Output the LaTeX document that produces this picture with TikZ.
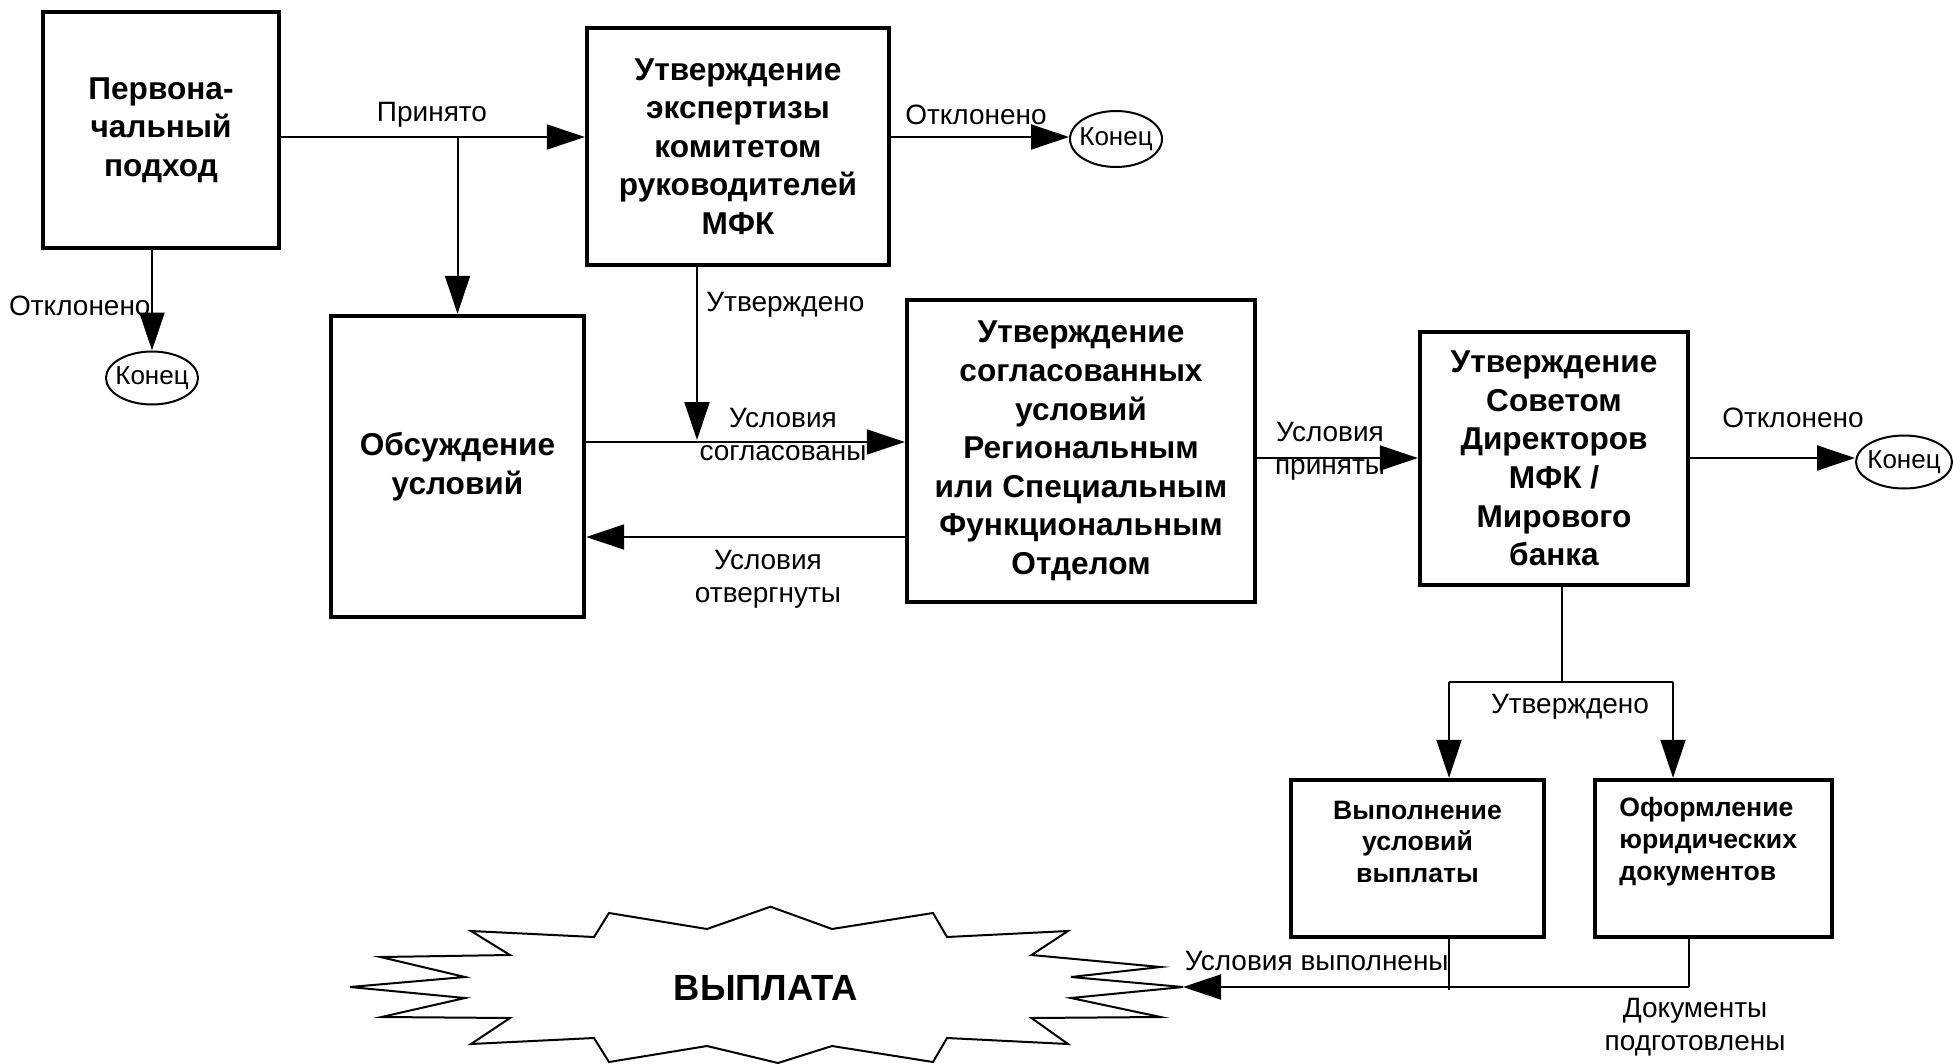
\documentclass[tikz,border=0pt]{standalone}
\usepackage{fontspec}
\setmainfont{Liberation Sans}
\usetikzlibrary{arrows.meta,shapes.geometric}
\begin{document}
\begin{tikzpicture}[x=0.5pt,y=-0.5pt,
  box/.style={draw,line width=2.2pt,inner sep=0pt,align=center,font=\fontsize{15.8}{19.3}\selectfont\bfseries},
  sbox/.style={draw,line width=2.2pt,inner sep=0pt},
  stxt/.style={inner sep=0pt,font=\fontsize{13.3}{15.8}\selectfont\bfseries},
  ell/.style={ellipse,draw,line width=1pt,inner xsep=-3pt,inner ysep=0pt,font=\fontsize{13}{15}\selectfont},
  arr/.style={line width=1pt,-{Triangle[length=19pt,width=12.5pt]}},
  ln/.style={line width=1pt},
  lab/.style={inner sep=0pt,align=center,font=\fontsize{14}{16.5}\selectfont}]
\useasboundingbox (0,0) rectangle (1953,1064);
% boxes
\node[box,minimum width=118pt,minimum height=118pt] (b1) at (161,130) {Первона-\\чальный\\подход};
\node[box,minimum width=151pt,minimum height=118.5pt] (b2) at (738,146.5) {Утверждение\\экспертизы\\комитетом\\руководителей\\МФК};
\node[box,minimum width=126.5pt,minimum height=150.5pt] (b3) at (457.5,466.5) {Обсуждение\\условий};
\node[box,minimum width=174pt,minimum height=151pt] (b4) at (1081,451) {Утверждение\\согласованных\\условий\\Региональным\\или Специальным\\Функциональным\\Отделом};
\node[box,minimum width=134pt,minimum height=126.5pt] (b5) at (1554,458.5) {Утверждение\\Советом\\Директоров\\МФК /\\Мирового\\банка};
\node[sbox,minimum width=126.5pt,minimum height=78.5pt] (b6) at (1417.5,858.5) {};
\node[sbox,minimum width=118.5pt,minimum height=78.5pt] (b7) at (1713.5,858.5) {};
\node[stxt,align=center] (t6) at (1417.5,841.7) {Выполнение\\условий\\выплаты};
\node[stxt,align=left,anchor=west] (t7) at (1619,841.7) {Оформление\\юридических\\документов};
% end ellipses
\node[ell,minimum width=46pt,minimum height=26.5pt] (e1) at (152,378) {Конец};
\node[ell,minimum width=46pt,minimum height=28pt] (e2) at (1116,139) {Конец};
\node[ell,minimum width=48pt,minimum height=26.5pt] (e3) at (1904,462) {Конец};
% starburst
\draw[line width=1pt,fill=white] (770.5,906.7) -- (832,929) -- (933,913) -- (947,937) -- (1068,931) -- (1031.5,955) -- (1160.5,967) -- (1071,977) -- (1183,987) -- (1071,998) -- (1160.5,1017) -- (1031.5,1018) -- (1068,1044) -- (947,1038) -- (933,1062) -- (832,1046) -- (778,1063) -- (707,1046) -- (609,1062) -- (594,1038) -- (471,1044) -- (510,1018) -- (381.5,1017) -- (465,998) -- (350,987) -- (465,977) -- (380.5,957) -- (510,955) -- (471,931) -- (594,937) -- (609,913) -- (707,929) -- cycle;
\coordinate (st) at (1183,987);
\node[inner sep=0pt,font=\fontsize{18.2}{22}\selectfont\bfseries] (pay) at (766,988) {ВЫПЛАТА};
% helper coordinates
\coordinate (r1) at (0,137);
\coordinate (r2) at (0,442);
\coordinate (r3) at (0,537);
\coordinate (r4) at (0,458);
\coordinate (j1) at (697,440);
\coordinate (j2) at (1561.5,682);
\coordinate (j3) at (1449,682);
\coordinate (j4) at (1673,682);
\coordinate (j5) at (1449,990);
\coordinate (j6) at (1689,987);
% connectors
\draw[arr] (b1.east |- r1) -- (b2.west |- r1);
\draw[arr] (b3.north |- r1) -- (b3.north);
\draw[arr] (e1.north |- b1.south) -- (e1.north);
\draw[arr] (b2.east |- r1) -- (e2.west |- r1);
\draw[arr] (j1 |- b2.south) -- (j1);
\draw[arr] (b3.east |- r2) -- (b4.west |- r2);
\draw[arr] (b4.west |- r3) -- (b3.east |- r3);
\draw[arr] (b4.east |- r4) -- (b5.west |- r4);
\draw[arr] (b5.east |- r4) -- (e3.west |- r4);
\draw[ln] (j2 |- b5.south) -- (j2);
\draw[ln] (j3) -- (j4);
\draw[arr] (j3) -- (j3 |- b6.north);
\draw[arr] (j4) -- (j4 |- b7.north);
\draw[ln] (j5 |- b6.south) -- (j5);
\draw[ln] (j6 |- b7.south) -- (j6);
\draw[arr] (j6) -- (st);
% labels
\node[lab] (l1) at (432,115) {Принято};
\node[lab,anchor=east] (l2) at (151,306) {Отклонено};
\node[lab] (l3) at (976,115) {Отклонено};
\node[lab,anchor=west] (l4) at (706,305) {Утверждено};
\node[lab] (l5) at (783,435) {Условия\\согласованы};
\node[lab] (l6) at (768,579) {Условия\\отвергнуты};
\node[lab] (l7) at (1330,451) {Условия\\приняты};
\node[lab] (l8) at (1793,418) {Отклонено};
\node[lab] (l9) at (1570,707) {Утверждено};
\node[lab,anchor=east] (l10) at (1449,961) {Условия выполнены};
\node[lab] (l11) at (1695,1027) {Документы\\подготовлены};
\end{tikzpicture}
\end{document}
